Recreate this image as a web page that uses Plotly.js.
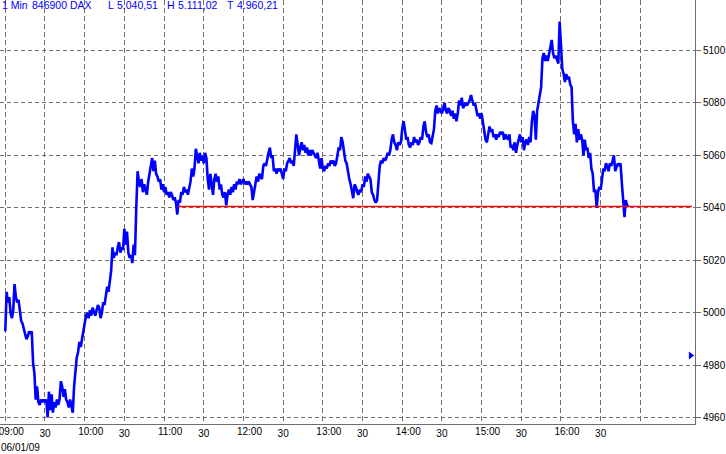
<!DOCTYPE html>
<html><head><meta charset="utf-8">
<script src="https://cdn.plot.ly/plotly-3.0.1.min.js"></script>
<style>html,body{margin:0;padding:0;background:#fff;}#chart{width:726px;height:454px;}</style>
</head><body><div id="chart"></div>
<script>
const day = "2009-01-06";
const startTime = "09:00";
// DAX 1-minute prices from 09:00
const prices = [
4993,5008,5004,5006,5000,4998,5001,5011,5006,5004,
5005,5000,4997,4996,4994,4992,4990,4991,4993,4992,
4993,4981,4977,4967,4972,4966,4965,4967,4966,4967,
4966,4967,4960.21,4970,4963,4969,4962,4966,4964,4967,
4965,4967,4974,4972,4968,4971,4967,4966,4964,4967,
4965,4962,4972,4978,4983,4985,4989,4987,4990,4994,
4997,4999,5000,4998,5001,4999,5002,5000,4999,5001,
5003,5002,4998,5000,5004,5003,5006,5010,5008,5013,
5016,5025,5021,5023,5022,5025,5027,5023,5025,5024,
5032,5026,5031,5023,5021,5022,5019,5026,5022,5040,
5054,5050,5048,5051,5046,5049,5047,5045,5050,5053,
5056,5059,5054,5058,5053,5052,5050,5051,5047,5049,
5046,5048,5045,5046,5044,5046,5045,5043,5044,5042,
5037.5,5043,5042,5046,5045,5048,5046,5047,5045,5048,
5050,5055,5052,5055,5062.5,5060,5057,5061,5058,5060,
5057,5061,5059,5051,5047,5053,5048,5045,5051,5053,
5050,5052,5047,5049,5045,5044,5046,5041,5045,5047,
5045,5048,5046,5049,5047,5050,5049,5051,5049,5050,
5051,5049,5050,5049,5050,5049,5048,5043,5047,5049,
5052,5050,5053,5052,5051,5056,5057,5056,5059,5061,
5063,5059,5060,5054,5055,5053,5055,5054,5055,5053,
5051,5055,5054,5057,5058,5059,5057,5058,5056,5061,
5068,5064,5060,5063,5065,5062,5064,5061,5063,5060,
5062,5060,5062,5061,5060,5059,5061,5058,5055,5059,
5055,5054,5056,5055,5057,5056,5058,5057,5058,5056,
5057,5060,5063,5062,5067,5065,5061,5058,5057,5053,
5051,5049,5046,5043.7,5049,5048,5046,5045,5047,5046,
5049,5048,5052,5050,5053,5052,5051,5046,5045,5043,
5042,5043,5050,5056,5058,5057,5059,5058,5059,5061,
5060,5062,5066,5068,5065,5064,5062,5065,5064,5065,
5070,5073,5070,5066,5067,5064,5063,5065,5064,5067,
5065,5066,5064,5065,5067,5066,5071,5073,5069,5067,
5068,5065,5064.7,5068,5070,5077,5079,5076,5078,5077,
5076,5078,5080,5077,5076,5078,5077,5075,5077,5074,
5076,5073,5076,5081,5079,5082,5078,5079,5080,5079,
5080,5081,5083,5081,5079,5080,5078,5075,5076,5074,
5076,5073,5069,5066,5065,5068,5071,5069,5070,5067,
5068,5066,5068,5067,5069,5068,5069,5066,5068,5067,
5066,5068,5063,5064,5062,5065,5061,5064,5066,5068,
5065,5067,5062,5065,5066,5064,5067,5065,5073,5077,
5075,5066,5077,5080,5082,5086,5097,5099,5096,5098,
5096,5099,5101,5104,5099,5097,5098,5096,5095,5111.02,
5100,5093,5091,5088,5091,5089,5090,5087,5086,5073,
5068,5072,5065,5070,5066,5068,5066,5060,5066,5062,
5063,5059,5061,5055,5053,5046,5047,5040,5046,5048,
5047,5052,5055,5054,5057,5056,5054,5057,5056,5058,
5060,5054,5056,5057,5056,5057,5049.5,5043,5036.5,5043,
5041,5040.51
];
const gridTimes  = ["09:00","09:30","10:00","10:30","11:00","11:30","12:00","12:30","13:00","13:30","14:00","14:30","15:00","15:30","16:00","16:30","17:00"];
const gridLabels = ["","30","","30","","30","","30","","30","","30","","30","","30",""];
const hourTimes  = ["09:00","10:00","11:00","12:00","13:00","14:00","15:00","16:00"];
const hourLabels = ["09:00","10:00","11:00","12:00","13:00","14:00","15:00","16:00"];
const yTicks = [4960,4980,5000,5020,5040,5060,5080,5100];
const yLabels = ["4960","4980","5000","5020","5040","5060","5080","5100"];
const lastPrice = 5040.51;
const lastLineTimes = ["11:11","17:39"];
const prevMarkerTime = "17:38";
const prevMarkerValue = 4983.8;
const headerTexts = ["1 Min","846900","DAX","L","5.040,51","H","5.111,02","T","4.960,21"];
const dateLabel = "06/01/09";

function t(hm){ return day + " " + hm; }
const [h0, mm0] = startTime.split(":").map(Number);
const times = prices.map((_, i) => {
  const m = h0*60 + mm0 + i;
  return day + " " + String(Math.floor(m/60)).padStart(2,"0") + ":" + String(m%60).padStart(2,"0");
});

const W = 695, H = 424;
const headerX = [1,31,69,107,116,166,177,226,236];
const font = {family:"Liberation Sans, Arial, sans-serif", size:10, color:"#000"};
const xRange = [t("08:56"), day + " 17:41:18"];

const traces = [
  {type:"scatter", mode:"lines", x: times, y: prices, line:{color:"#0000ff", width:2.6}, hoverinfo:"skip"},
  {type:"scatter", mode:"lines", x: lastLineTimes.map(t), y:[lastPrice,lastPrice], line:{color:"#ff0000", width:1.5}, hoverinfo:"skip"},
  {type:"scatter", mode:"markers", xaxis:"x2", x:[t(prevMarkerTime)], y:[prevMarkerValue], marker:{symbol:"triangle-right", size:7, color:"#0000ff"}, hoverinfo:"skip"}
];

const annotations = headerTexts.map((s,i)=>({
  text:s, xref:"paper", yref:"paper", x: headerX[i]/W, y: 1 - 5.5/H,
  xanchor:"left", yanchor:"middle", showarrow:false, borderpad:0,
  font:{family:font.family, size:10.5, color:"#0000ff"}
}));
annotations.push({text:dateLabel, xref:"paper", yref:"paper", x:0, y:-23/H, xanchor:"left", yanchor:"middle", showarrow:false, borderpad:0, font:font});

const layout = {
  width:726, height:454, margin:{l:0, r:31, t:0, b:30},
  paper_bgcolor:"#fff", plot_bgcolor:"#fff", showlegend:false,
  xaxis:{type:"date", range:xRange, tickmode:"array", tickvals:gridTimes.map(t), ticktext:gridLabels,
    showgrid:true, gridcolor:"#6e6e6e", gridwidth:1, griddash:"5px,3px",
    showline:true, linecolor:"#6e6e6e", linewidth:1, ticks:"", zeroline:false, tickfont:font, fixedrange:true},
  xaxis2:{type:"date", overlaying:"x", anchor:"y", side:"bottom", range:xRange, tickmode:"array",
    tickvals:hourTimes.map(t), ticktext:hourLabels, showgrid:false, showline:false, ticks:"",
    ticklabelshift:6, ticklabeloverflow:"allow", zeroline:false, tickfont:font, fixedrange:true},
  yaxis:{side:"right", range:[4957.7,5119.2], tickmode:"array", tickvals:yTicks, ticktext:yLabels,
    showgrid:true, gridcolor:"#6e6e6e", gridwidth:1, griddash:"4px,3px",
    showline:true, linecolor:"#6e6e6e", linewidth:1, ticks:"outside", ticklen:5, tickcolor:"#6e6e6e",
    zeroline:false, tickfont:font, fixedrange:true},
  shapes:[{type:"rect", xref:"paper", yref:"paper", x0:0, x1:290/W, y0:1-13/H, y1:1, fillcolor:"#fff", line:{width:0}, layer:"between"}],
  annotations: annotations
};
Plotly.newPlot("chart", traces, layout, {staticPlot:true, displayModeBar:false});
</script>
</body></html>
